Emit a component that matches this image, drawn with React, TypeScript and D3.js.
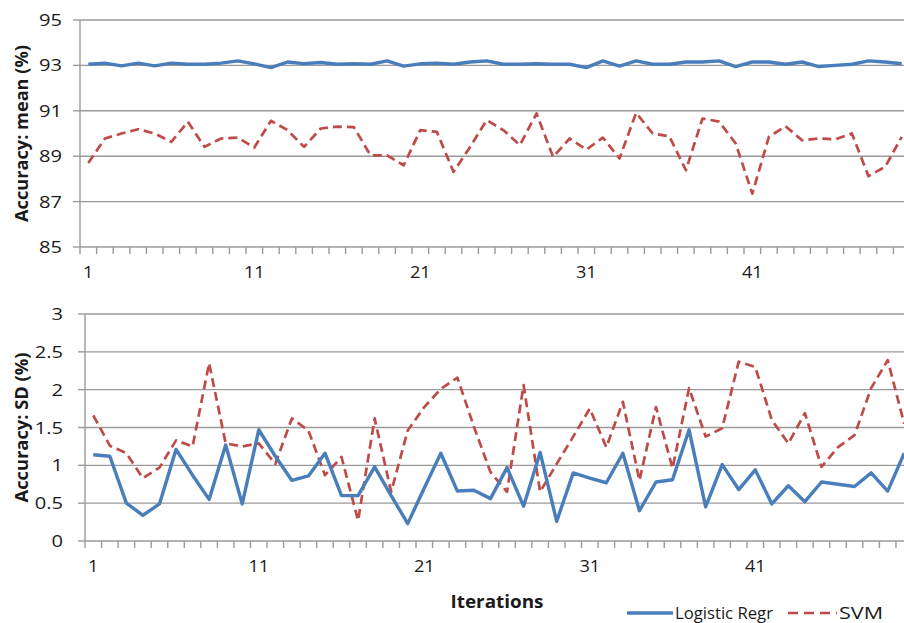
import { useEffect, useRef } from "react";
import * as d3 from "d3";

// values (50 iterations each)
const logisticMean = [
  93.05, 93.1, 92.98, 93.1, 92.98, 93.1, 93.05, 93.05, 93.1, 93.2,
  93.07, 92.9, 93.15, 93.08, 93.13, 93.05, 93.07, 93.05, 93.2, 92.97,
  93.07, 93.1, 93.05, 93.15, 93.2, 93.05, 93.05, 93.07, 93.05, 93.05,
  92.9, 93.2, 92.97, 93.2, 93.05, 93.05, 93.15, 93.15, 93.2, 92.95,
  93.15, 93.15, 93.05, 93.15, 92.95, 93.0, 93.05, 93.2, 93.15, 93.07,
];
const svmMean = [
  88.7, 89.78, 90.0, 90.19, 90.0, 89.63, 90.52, 89.41, 89.78, 89.82,
  89.38, 90.56, 90.15, 89.41, 90.22, 90.3, 90.28, 89.04, 89.04, 88.6,
  90.15, 90.07, 88.31, 89.41, 90.59, 90.15, 89.49, 90.88, 88.97, 89.78,
  89.29, 89.82, 88.9, 90.91, 90.0, 89.88, 88.38, 90.66, 90.52, 89.56,
  87.35, 89.85, 90.32, 89.7, 89.78, 89.74, 90.0, 88.12, 88.53, 89.85,
];
const logisticSD = [
  1.14, 1.12, 0.5, 0.34, 0.49, 1.21, 0.87, 0.55, 1.27, 0.49,
  1.47, 1.12, 0.8, 0.86, 1.16, 0.6, 0.6, 0.98, 0.6, 0.23,
  0.7, 1.16, 0.66, 0.67, 0.56, 0.97, 0.46, 1.17, 0.26, 0.9,
  0.83, 0.77, 1.16, 0.4, 0.78, 0.81, 1.47, 0.45, 1.01, 0.68,
  0.94, 0.49, 0.73, 0.52, 0.78, 0.75, 0.72, 0.9, 0.66, 1.16,
];
const svmSD = [
  1.66, 1.26, 1.16, 0.83, 0.97, 1.33, 1.25, 2.35, 1.29, 1.25,
  1.29, 1.02, 1.62, 1.46, 0.87, 1.11, 0.27, 1.62, 0.65, 1.46,
  1.77, 2.01, 2.16, 1.51, 0.91, 0.65, 2.06, 0.65, 1.02, 1.38,
  1.75, 1.24, 1.84, 0.8, 1.77, 0.96, 2.02, 1.38, 1.49, 2.37,
  2.3, 1.6, 1.29, 1.69, 0.98, 1.24, 1.4, 2.02, 2.39, 1.55,
];

const iterations = logisticMean.map((_, i) => String(i + 1));
const xTickLabels = ["1", "11", "21", "31", "41"];
const meanTicks = [85, 87, 89, 91, 93, 95];
const sdTicks = [0, 0.5, 1, 1.5, 2, 2.5, 3];
const seriesNames = ["Logistic Regr", "SVM"];

const BLUE = "#4a7ebb";
const RED = "#be4b48";
const GRID = "#9a9a9a";
const TEXT = "#1a1a1a";
const FONT = "'Open Sans', 'Liberation Sans', sans-serif";

const W = 904;
const H = 623;

function drawPanel(svg, cfg) {
  const { left, top, bottom, step, yTicks, yFormat, series, title, titleLen, labelRight, labelY } = cfg;
  const right = left + step * iterations.length;

  const x = d3.scaleBand().domain(iterations).range([left, right]).padding(0);
  const y = d3
    .scaleLinear()
    .domain([yTicks[0], yTicks[yTicks.length - 1]])
    .range([bottom, top]);
  const bw = x.bandwidth();

  const g = svg.append("g");

  // horizontal grid lines
  g.selectAll(".grid")
    .data(yTicks)
    .join("line")
    .attr("x1", left)
    .attr("x2", right)
    .attr("y1", (d) => y(d))
    .attr("y2", (d) => y(d))
    .attr("stroke", GRID)
    .attr("stroke-width", 1.4);

  // y axis line + ticks
  g.append("line")
    .attr("x1", left)
    .attr("x2", left)
    .attr("y1", top)
    .attr("y2", bottom)
    .attr("stroke", GRID)
    .attr("stroke-width", 1.4);
  g.selectAll(".ytick")
    .data(yTicks)
    .join("line")
    .attr("x1", left - 7)
    .attr("x2", left)
    .attr("y1", (d) => y(d))
    .attr("y2", (d) => y(d))
    .attr("stroke", GRID)
    .attr("stroke-width", 1.4);

  g.selectAll(".ylabel")
    .data(yTicks)
    .join("text")
    .attr("transform", (d) => `translate(${labelRight},${y(d) + 6}) scale(1.22,1)`)
    .attr("text-anchor", "end")
    .style("font-family", FONT)
    .style("font-size", "16.5px")
    .style("fill", TEXT)
    .text((d) => yFormat(d));

  // category tick marks at band boundaries
  const bounds = iterations.map((c) => x(c)).concat([right]);
  g.selectAll(".xtick")
    .data(bounds)
    .join("line")
    .attr("x1", (d) => d)
    .attr("x2", (d) => d)
    .attr("y1", bottom)
    .attr("y2", bottom + 7)
    .attr("stroke", GRID)
    .attr("stroke-width", 1.4);

  g.selectAll(".xlabel")
    .data(xTickLabels)
    .join("text")
    .attr("transform", (d) => `translate(${x(d) + bw / 2},${labelY}) scale(1.1,1)`)
    .attr("text-anchor", "middle")
    .style("font-family", FONT)
    .style("font-size", "16.5px")
    .style("fill", TEXT)
    .text((d) => d);

  // series lines
  const line = d3
    .line()
    .x((_, i) => x(iterations[i]) + bw / 2)
    .y((d) => y(d));

  series.forEach((s) => {
    g.append("path")
      .datum(s.values)
      .attr("fill", "none")
      .attr("stroke", s.color)
      .attr("stroke-width", s.width)
      .attr("stroke-dasharray", s.dash || null)
      .attr("stroke-linejoin", "round")
      .attr("d", line);
  });

  // y axis title
  g.append("text")
    .attr("transform", `translate(22,${(top + bottom) / 2}) rotate(-90)`)
    .attr("text-anchor", "middle")
    .attr("dy", "0.36em")
    .attr("textLength", titleLen)
    .attr("lengthAdjust", "spacingAndGlyphs")
    .style("font-family", FONT)
    .style("font-size", "17.5px")
    .style("font-weight", "bold")
    .style("fill", TEXT)
    .text(title);
}

export default function App() {
  const svgRef = useRef(null);

  useEffect(() => {
    const svg = d3.select(svgRef.current);
    svg.selectAll("*").remove();

    drawPanel(svg, {
      left: 80,
      top: 20,
      bottom: 247,
      step: 16.6,
      yTicks: meanTicks,
      yFormat: d3.format("d"),
      labelRight: 62,
      labelY: 278,
      title: "Accuracy: mean (%)",
      titleLen: 177,
      series: [
        { values: svmMean, color: RED, width: 2.7, dash: "9,5" },
        { values: logisticMean, color: BLUE, width: 3.4 },
      ],
    });

    drawPanel(svg, {
      left: 85,
      top: 314,
      bottom: 541,
      step: 16.55,
      yTicks: sdTicks,
      yFormat: (d) => String(d),
      labelRight: 63,
      labelY: 572,
      title: "Accuracy: SD (%)",
      titleLen: 150,
      series: [
        { values: svmSD, color: RED, width: 2.7, dash: "9,5" },
        { values: logisticSD, color: BLUE, width: 3.4 },
      ],
    });

    // x axis title
    svg.append("text")
      .attr("x", 497)
      .attr("y", 607.5)
      .attr("text-anchor", "middle")
      .attr("textLength", 93)
      .attr("lengthAdjust", "spacingAndGlyphs")
      .style("font-family", FONT)
      .style("font-size", "17px")
      .style("font-weight", "bold")
      .style("fill", TEXT)
      .text("Iterations");

    // legend
    const legend = [
      { name: seriesNames[0], color: BLUE, dash: null, x1: 627, x2: 673, tx: 675, len: 98 },
      { name: seriesNames[1], color: RED, dash: "10,6", x1: 788, x2: 837, tx: 839, len: 44 },
    ];
    const lg = svg.append("g");
    legend.forEach((l) => {
      lg.append("line")
        .attr("x1", l.x1)
        .attr("x2", l.x2)
        .attr("y1", 613)
        .attr("y2", 613)
        .attr("stroke", l.color)
        .attr("stroke-width", l.dash ? 2.7 : 3.4)
        .attr("stroke-dasharray", l.dash);
      lg.append("text")
        .attr("x", l.tx)
        .attr("y", 619)
        .attr("textLength", l.len)
        .attr("lengthAdjust", "spacingAndGlyphs")
        .style("font-family", FONT)
        .style("font-size", "16px")
        .style("fill", TEXT)
        .text(l.name);
    });
  }, []);

  return (
    <svg
      ref={svgRef}
      width={W}
      height={H}
      style={{ position: "absolute", left: 0, top: 0, display: "block", background: "#fff" }}
    />
  );
}
